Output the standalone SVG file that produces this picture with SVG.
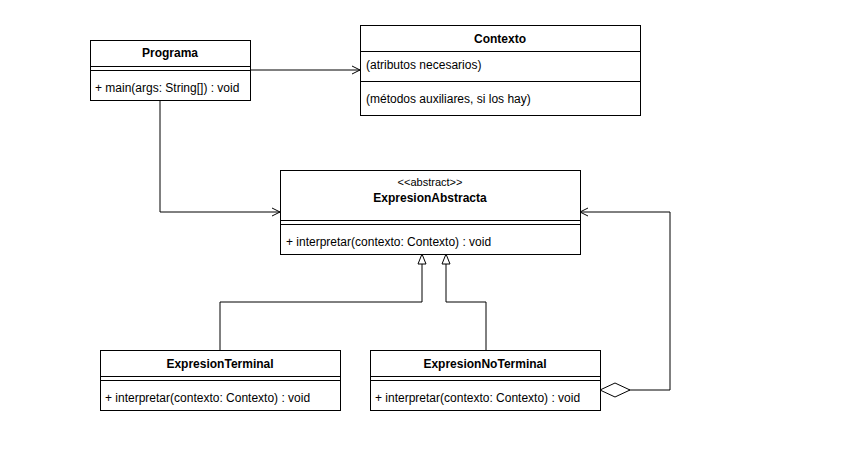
<svg xmlns="http://www.w3.org/2000/svg" width="850" height="472" viewBox="0 0 850 472">
<defs>
<style>
.box{fill:#fff;stroke:#000;stroke-width:1}
.ln{stroke:#000;stroke-width:1;fill:none}
.t{font-family:"Liberation Sans",Arial,sans-serif;font-size:12px;fill:#000}
.b{font-weight:bold;text-anchor:middle}
.s{font-size:11px;text-anchor:middle}
</style>
<marker id="open" viewBox="0 0 10 10" refX="9" refY="5" markerWidth="10" markerHeight="10" markerUnits="userSpaceOnUse" orient="auto">
<path d="M1,1 L9,5 L1,9" fill="none" stroke="#000" stroke-width="1"/>
</marker>
<marker id="tri" viewBox="0 0 12 12" refX="11" refY="6" markerWidth="12" markerHeight="12" markerUnits="userSpaceOnUse" orient="auto">
<path d="M1,2 L11,6 L1,10 Z" fill="#fff" stroke="#000" stroke-width="1"/>
</marker>
<marker id="dia" viewBox="0 0 32 16" refX="1" refY="8" markerWidth="32" markerHeight="16" markerUnits="userSpaceOnUse" orient="auto">
<path d="M1,8 L16,1 L31,8 L16,15 Z" fill="#fff" stroke="#000" stroke-width="1"/>
</marker>
</defs>
<rect width="850" height="472" fill="#fff"/>
<g id="connectors">
<path class="ln" d="M250,70 L360,70" marker-end="url(#open)"/>
<path class="ln" d="M160,100 L160,212 L280,212" marker-end="url(#open)"/>
<path class="ln" d="M220,350 L220,302 L422,302 L422,254" marker-end="url(#tri)"/>
<path class="ln" d="M486,350 L486,302 L446,302 L446,254" marker-end="url(#tri)"/>
<path class="ln" d="M600,390 L670,390 L670,212 L580,212" marker-start="url(#dia)" marker-end="url(#open)"/>
</g>
<g id="Programa">
<rect class="box" x="90.5" y="40.5" width="160" height="60"/>
<line class="ln" x1="90.5" y1="66.5" x2="250.5" y2="66.5"/>
<line class="ln" x1="90.5" y1="70.5" x2="250.5" y2="70.5"/>
<text class="t b" x="170" y="57">Programa</text>
<text class="t" x="95" y="92">+ main(args: String[]) : void</text>
</g>
<g id="Contexto">
<rect class="box" x="360.5" y="25.5" width="280" height="90"/>
<line class="ln" x1="360.5" y1="51.5" x2="640.5" y2="51.5"/>
<line class="ln" x1="360.5" y1="81.5" x2="640.5" y2="81.5"/>
<text class="t b" x="500" y="43">Contexto</text>
<text class="t" x="366" y="69">(atributos necesarios)</text>
<text class="t" x="366" y="103">(métodos auxiliares, si los hay)</text>
</g>
<g id="ExpresionAbstracta">
<rect class="box" x="280.5" y="170.5" width="300" height="84"/>
<line class="ln" x1="280.5" y1="220.5" x2="580.5" y2="220.5"/>
<line class="ln" x1="280.5" y1="224.5" x2="580.5" y2="224.5"/>
<text class="t s" x="430" y="186">&lt;&lt;abstract&gt;&gt;</text>
<text class="t b" x="430" y="202">ExpresionAbstracta</text>
<text class="t" x="286" y="246">+ interpretar(contexto: Contexto) : void</text>
</g>
<g id="ExpresionTerminal">
<rect class="box" x="100.5" y="350.5" width="240" height="60"/>
<line class="ln" x1="100.5" y1="376.5" x2="340.5" y2="376.5"/>
<line class="ln" x1="100.5" y1="380.5" x2="340.5" y2="380.5"/>
<text class="t b" x="220" y="368">ExpresionTerminal</text>
<text class="t" x="105" y="402">+ interpretar(contexto: Contexto) : void</text>
</g>
<g id="ExpresionNoTerminal">
<rect class="box" x="370.5" y="350.5" width="230" height="60"/>
<line class="ln" x1="370.5" y1="376.5" x2="600.5" y2="376.5"/>
<line class="ln" x1="370.5" y1="380.5" x2="600.5" y2="380.5"/>
<text class="t b" x="485" y="368">ExpresionNoTerminal</text>
<text class="t" x="375" y="402">+ interpretar(contexto: Contexto) : void</text>
</g>
</svg>
